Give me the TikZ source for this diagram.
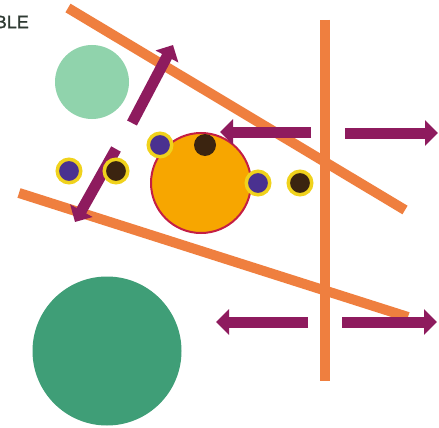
\documentclass[tikz,border=0pt]{standalone}
\usepackage{fontspec}
\setmainfont{Liberation Sans}
\newfontfamily\labelfont[FakeBold=1.2]{Liberation Sans}
\usetikzlibrary{arrows.meta}
\definecolor{orangeline}{HTML}{EF7F3F}
\definecolor{purparrow}{HTML}{8E1B5E}
\definecolor{bigorange}{HTML}{F7A600}
\definecolor{crimson}{HTML}{C41E44}
\definecolor{ringyellow}{HTML}{F0D21C}
\definecolor{dotblue}{HTML}{4A3190}
\definecolor{dotbrown}{HTML}{3B2410}
\definecolor{lightgreen}{HTML}{90D3AC}
\definecolor{darkgreen}{HTML}{3F9E77}
\definecolor{textgray}{HTML}{2F3A33}
\begin{document}
\begin{tikzpicture}[x=1pt,y=-1pt,
  bar/.style={draw=orangeline,line width=10pt},
  fatarrow/.style={draw=purparrow,line width=11pt,-{Triangle[width=25pt,length=13pt]}},
  disc/.style={circle,inner sep=0pt,minimum size=#1},
  ringdot/.style={circle,inner sep=0pt,minimum size=23.5pt,draw=ringyellow,line width=3.5pt},
]
\useasboundingbox (0,0) rectangle (439,428);
\fill[white] (0,0) rectangle (439,428);
\node[anchor=east,text=textgray,inner sep=0pt,font=\labelfont\fontsize{18}{18}\selectfont] (title) at (29,22) {BLE};
% circles
\node[disc=74pt,fill=lightgreen] (lg) at (92,82) {};
\node[disc=149pt,fill=darkgreen] (dg) at (107,351) {};
\node[disc=100pt,fill=bigorange,draw=crimson,line width=2pt] (big) at (201,183) {};
% orange bars
\coordinate (t1) at (68,8);
\coordinate (t2) at (405,210);
\coordinate (b1) at (19,193);
\coordinate (b2) at (408,317);
\coordinate (v1) at (325,20);
\coordinate (v2) at (325,381);
\draw[bar] (t1) -- (t2);
\draw[bar] (b1) -- (b2);
\draw[bar] (v1) -- (v2);
% arrows
\coordinate (a1s) at (132,123); \coordinate (a1e) at (173,45);
\coordinate (a2s) at (116,149); \coordinate (a2e) at (75,222);
\coordinate (a3s) at (311,132); \coordinate (a3e) at (220,132);
\coordinate (a4s) at (345,133); \coordinate (a4e) at (438,133);
\coordinate (a5s) at (308,322); \coordinate (a5e) at (216,322);
\coordinate (a6s) at (342,322); \coordinate (a6e) at (437,322);
\draw[fatarrow] (a1s) -- (a1e);
\draw[fatarrow] (a2s) -- (a2e);
\draw[fatarrow] (a3s) -- (a3e);
\draw[fatarrow] (a4s) -- (a4e);
\draw[fatarrow] (a5s) -- (a5e);
\draw[fatarrow] (a6s) -- (a6e);
% dots
\node[ringdot,fill=dotblue] (d1) at (69,171) {};
\node[ringdot,fill=dotbrown] (d2) at (116,171) {};
\node[ringdot,fill=dotblue] (d3) at (160,145) {};
\node[disc=22pt,fill=dotbrown] (d4) at (205,145) {};
\node[ringdot,fill=dotblue] (d5) at (258,183) {};
\node[ringdot,fill=dotbrown] (d6) at (300,183) {};
\end{tikzpicture}
\end{document}
